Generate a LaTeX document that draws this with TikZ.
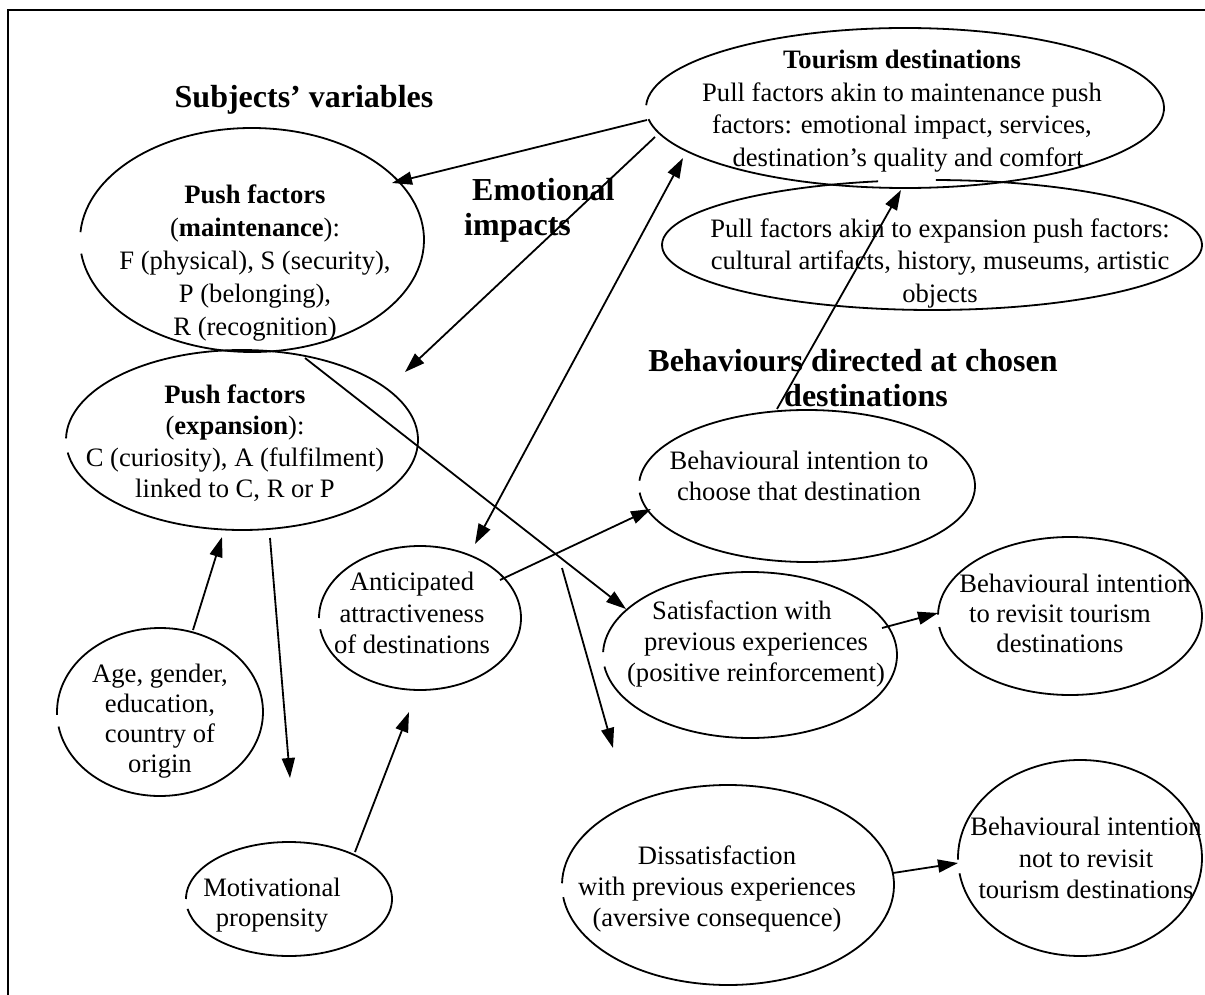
\documentclass[tikz,border=0pt]{standalone}
\usepackage{fontspec}
\setmainfont{Liberation Serif}
\usetikzlibrary{shapes.geometric,arrows.meta}
% ellipse outline with the small break at its left side, as in the reference
% #1 centre, #2 x radius, #3 y radius, #4 start angle, #5 end angle
\newcommand\gapoval[5]{\draw[ovl] (#1) ++(#4:#2 and #3) arc[start angle=#4,end angle=#5,x radius=#2,y radius=#3];}
\begin{document}
\begin{tikzpicture}[x=1pt,y=-1pt,
  oval/.style={ellipse,inner sep=0pt,outer sep=0pt},
  ovl/.style={line width=1.8pt},
  txt/.style={align=center,inner sep=0pt,font=\fontsize{26.6}{31.5}\selectfont},
  ttl/.style={align=center,inner sep=0pt,font=\fontsize{32}{35}\selectfont\bfseries},
  arr/.style={line width=1.8pt,-{Triangle[length=20pt,width=13pt]}},
  darr/.style={line width=1.8pt,{Triangle[length=20pt,width=13pt]}-{Triangle[length=20pt,width=13pt]}},
]
\useasboundingbox (0,0) rectangle (1205,995);
\fill[white] (0,0) rectangle (1205,995);
\draw[line width=2.4pt] (8,995) -- (8,10) -- (1205,10);

% ellipses (named nodes; outlines drawn below)
\node[oval,minimum width=518pt,minimum height=160pt] (tour) at (905,108) {};
\node[oval,minimum width=540pt,minimum height=130pt] (pull) at (932,245) {};
\node[oval,minimum width=344pt,minimum height=224pt] (pm) at (252,240) {};
\node[oval,minimum width=352pt,minimum height=180pt] (pe) at (242,440) {};
\node[oval,minimum width=206pt,minimum height=168pt] (age) at (160,712) {};
\node[oval,minimum width=206pt,minimum height=114pt] (mot) at (289,899) {};
\node[oval,minimum width=202pt,minimum height=144pt] (ant) at (420,618) {};
\node[oval,minimum width=336pt,minimum height=152pt] (bch) at (807,486) {};
\node[oval,minimum width=294pt,minimum height=166pt] (sat) at (750,655) {};
\node[oval,minimum width=264pt,minimum height=158pt] (rev) at (1070,616) {};
\node[oval,minimum width=332pt,minimum height=200pt] (dis) at (728,885) {};
\node[oval,minimum width=244pt,minimum height=196pt] (nrev) at (1080,858) {};

\gapoval{tour.center}{259}{80}{182}{532}
\gapoval{pull.center}{270}{65}{270.8}{618.5}
\gapoval{pm.center}{172}{112}{184}{533}
\gapoval{pe.center}{176}{90}{181}{532}
\gapoval{age.center}{103}{84}{178}{530}
\gapoval{mot.center}{103}{57}{180}{530}
\gapoval{ant.center}{101}{72}{180}{531}
\gapoval{bch.center}{168}{76}{184}{535}
\gapoval{sat.center}{147}{83}{182}{532}
\gapoval{rev.center}{132}{79}{181}{532}
\gapoval{dis.center}{166}{100}{181}{533}
\gapoval{nrev.center}{122}{98}{179}{531}

% titles
\node[ttl] (tsub) at (304,100) {Subjects’ variables};
\node[ttl,align=left,anchor=west] (temo) at (464,210) {\hspace*{8pt}Emotional\\impacts};
\node[ttl] (tbeh) at (853,378) {Behaviours directed at chosen\\\hspace*{26pt}destinations};

% texts
\node[txt,font=\fontsize{26.6}{32.5}\selectfont] (xtour) at (902,111) {\textbf{Tourism destinations}\\Pull factors akin to maintenance push\\factors: emotional impact, services,\\\hspace*{12pt}destination’s quality and comfort};
\node[txt,font=\fontsize{26.6}{32.5}\selectfont] (xpull) at (940,263) {Pull factors akin to expansion push factors:\\cultural artifacts, history, museums, artistic\\objects};
\node[txt,font=\fontsize{26.6}{33}\selectfont] (xpm) at (255,263) {\textbf{Push factors}\\(\textbf{maintenance}):\\F (physical), S (security),\\P (belonging),\\R (recognition)};
\node[txt] (xpe) at (235,443) {\textbf{Push factors}\\(\textbf{expansion}):\\C (curiosity), A (fulfilment)\\linked to C, R or P};
\node[txt,font=\fontsize{26.6}{30}\selectfont] (xage) at (160,721) {Age, gender,\\education,\\country of\\origin};
\node[txt,font=\fontsize{26.6}{30}\selectfont] (xmot) at (272,905) {Motivational\\propensity};
\node[txt] (xant) at (412,613) {Anticipated\\attractiveness\\of destinations};
\node[txt] (xbch) at (799,476) {Behavioural intention to\\choose that destination};
\node[txt,font=\fontsize{26.6}{31}\selectfont] (xsat) at (756,644) {Satisfaction with\hspace*{28pt}\\previous experiences\\(positive reinforcement)};
\node[txt,font=\fontsize{26.6}{30}\selectfont] (xrev) at (1060,613) {\hspace*{30pt}Behavioural intention\\to revisit tourism\\destinations};
\node[txt,font=\fontsize{26.6}{31}\selectfont] (xdis) at (717,889) {Dissatisfaction\\with previous experiences\\(aversive consequence)};
\node[txt,font=\fontsize{26.6}{31.5}\selectfont] (xnrev) at (1086,858) {Behavioural intention\\not to revisit\hspace*{36pt}\\tourism destinations};

% connector end points
\coordinate (a1s) at (647,120); \coordinate (a1e) at (392,183);
\coordinate (a2s) at (655,137); \coordinate (a2e) at (405,372);
\coordinate (a3s) at (475,544); \coordinate (a3e) at (683,158);
\coordinate (a4s) at (777,409); \coordinate (a4e) at (901,190);
\coordinate (a5s) at (305,358); \coordinate (a5e) at (626,609);
\coordinate (a6s) at (500,580); \coordinate (a6e) at (651,509);
\coordinate (a7s) at (882,628); \coordinate (a7e) at (938,613);
\coordinate (a8s) at (562,568); \coordinate (a8e) at (613,748);
\coordinate (a9s) at (893,873); \coordinate (a9e) at (958,863);
\coordinate (a10s) at (193,630); \coordinate (a10e) at (222,537);
\coordinate (a11s) at (270,538); \coordinate (a11e) at (290,778);
\coordinate (a12s) at (355,852); \coordinate (a12e) at (409,712);

\draw[arr] (a1s) -- (a1e);
\draw[arr] (a2s) -- (a2e);
\draw[darr] (a3s) -- (a3e);
\draw[arr] (a4s) -- (a4e);
\draw[arr] (a5s) -- (a5e);
\draw[arr] (a6s) -- (a6e);
\draw[arr] (a7s) -- (a7e);
\draw[arr] (a8s) -- (a8e);
\draw[arr] (a9s) -- (a9e);
\draw[arr] (a10s) -- (a10e);
\draw[arr] (a11s) -- (a11e);
\draw[arr] (a12s) -- (a12e);
\end{tikzpicture}
\end{document}
